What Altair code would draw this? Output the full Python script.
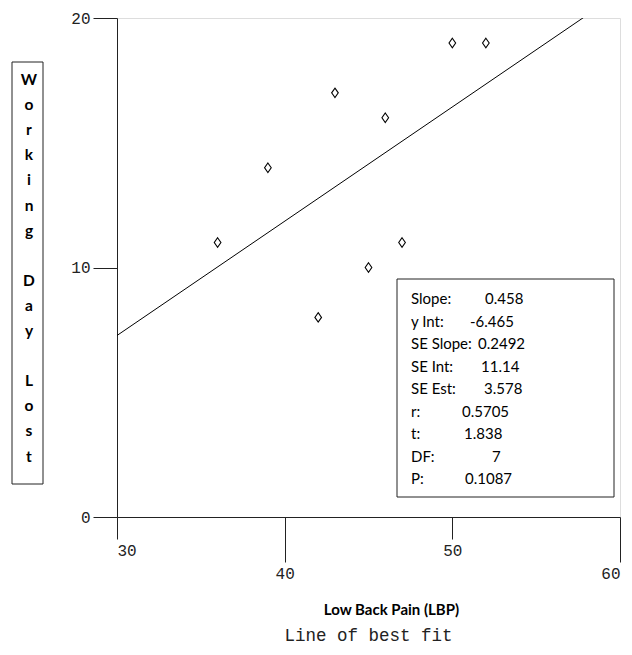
import altair as alt
import pandas as pd

# ---- data ----
lbp = [36, 39, 42, 43, 45, 46, 47, 50, 52]
days = [11, 14, 8, 17, 10, 16, 11, 19, 19]
slope = 0.458
intercept = -6.465
stat_labels = ["Slope:", "y Int:", "SE Slope:", "SE Int:", "SE Est:", "r:", "t:", "DF:", "P:"]
stat_values = ["0.458", "-6.465", "0.2492", "11.14", "3.578", "0.5705", "1.838", "7", "0.1087"]
x_ticks = [30, 40, 50, 60]
y_ticks = [0, 10, 20]
y_title = list("Working") + [""] + list("Day") + [""] + list("Lost")

# ---- layout (pixels, relative to the plot area) ----
W, H = 503, 499
value_px = [368, 353, 361, 364, 367, 345, 347, 375, 348]
row_py = [281 + 22.5 * i for i in range(len(stat_labels))]
letter_step = 25.1
letter_top = 62

pts = pd.DataFrame({"lbp": lbp, "days": days})
fit_x = [30, 60]
fit = pd.DataFrame({"lbp": fit_x, "days": [slope * v + intercept for v in fit_x]})
stats = pd.DataFrame({"label": stat_labels, "value": stat_values, "vx": value_px, "ly": row_py})
letters = pd.DataFrame(
    [{"ch": c, "ly": letter_top + letter_step * i} for i, c in enumerate(y_title) if c]
)
one = pd.DataFrame({"a": [0]})

xs = alt.Scale(domain=[30, 60], nice=False, zero=False)
ys = alt.Scale(domain=[0, 20], nice=False, zero=False)

x_axis = alt.Axis(
    values=x_ticks, grid=False,
    tickSize={"condition": {"test": "datum.value % 20 == 0", "value": 45}, "value": 22},
    labelPadding=3,
    labelFont="Liberation Mono", labelFontSize=16, labelColor="#222",
    title="Low Back Pain (LBP)", titleFont="Lato", titleFontWeight="bold",
    titleFontSize=15, titleColor="black", titleX=274, titleY=92,
    titleAlign="center", titleBaseline="middle",
    domainColor="#222", tickColor="#222",
)
y_axis = alt.Axis(
    values=y_ticks, grid=False, tickSize=24, labelPadding=3,
    labelFont="Liberation Mono", labelFontSize=16, labelColor="#222",
    title=None, domainColor="#222", tickColor="#222",
)

points = alt.Chart(pts).mark_point(
    shape="M0,-1L0.7,0L0,1L-0.7,0Z", filled=False, size=90,
    color="black", strokeWidth=1.1, opacity=1,
).encode(
    x=alt.X("lbp:Q", scale=xs, axis=x_axis),
    y=alt.Y("days:Q", scale=ys, axis=y_axis),
)

line = alt.Chart(fit).mark_line(clip=True, color="black", strokeWidth=1).encode(
    x=alt.X("lbp:Q", scale=xs),
    y=alt.Y("days:Q", scale=ys),
)

stat_box = alt.Chart(one).mark_rect(fill="white", stroke="#222", strokeWidth=1).encode(
    x=alt.value(280), x2=alt.value(497), y=alt.value(261), y2=alt.value(479)
)
ytitle_box = alt.Chart(one).mark_rect(filled=False, stroke="#222", strokeWidth=1).encode(
    x=alt.value(-105), x2=alt.value(-74), y=alt.value(44), y2=alt.value(466)
)
ytitle_text = alt.Chart(letters).mark_text(
    align="center", baseline="middle", font="Lato", fontSize=15.5,
    fontWeight="bold", color="black",
).encode(
    x=alt.value(-88),
    y=alt.Y("ly:Q", scale=None, axis=None),
    text="ch:N",
)

stat_lab = alt.Chart(stats).mark_text(
    align="left", baseline="middle", font="Lato", fontSize=15, color="black"
).encode(
    x=alt.value(294),
    y=alt.Y("ly:Q", scale=None, axis=None),
    text="label:N",
)
stat_val = alt.Chart(stats).mark_text(
    align="left", baseline="middle", font="Lato", fontSize=15, color="black"
).encode(
    x=alt.X("vx:Q", scale=None, axis=None),
    y=alt.Y("ly:Q", scale=None, axis=None),
    text="value:N",
)

chart = alt.layer(
    ytitle_box, ytitle_text, line, stat_box, points, stat_lab, stat_val
).properties(
    width=W, height=H,
    autosize=alt.AutoSizeParams(type="none"),
    padding={"left": 109, "top": 10, "right": 4, "bottom": 130},
    title=alt.TitleParams(
        "Line of best fit", orient="bottom", anchor="middle",
        font="Liberation Mono", fontSize=17.5, fontWeight="normal",
        color="#222", offset=7, dy=3,
    ),
).configure_view(stroke="#222", strokeWidth=1).configure(background="white")

chart.save("out.html", embed_options={"renderer": "svg", "actions": False})
